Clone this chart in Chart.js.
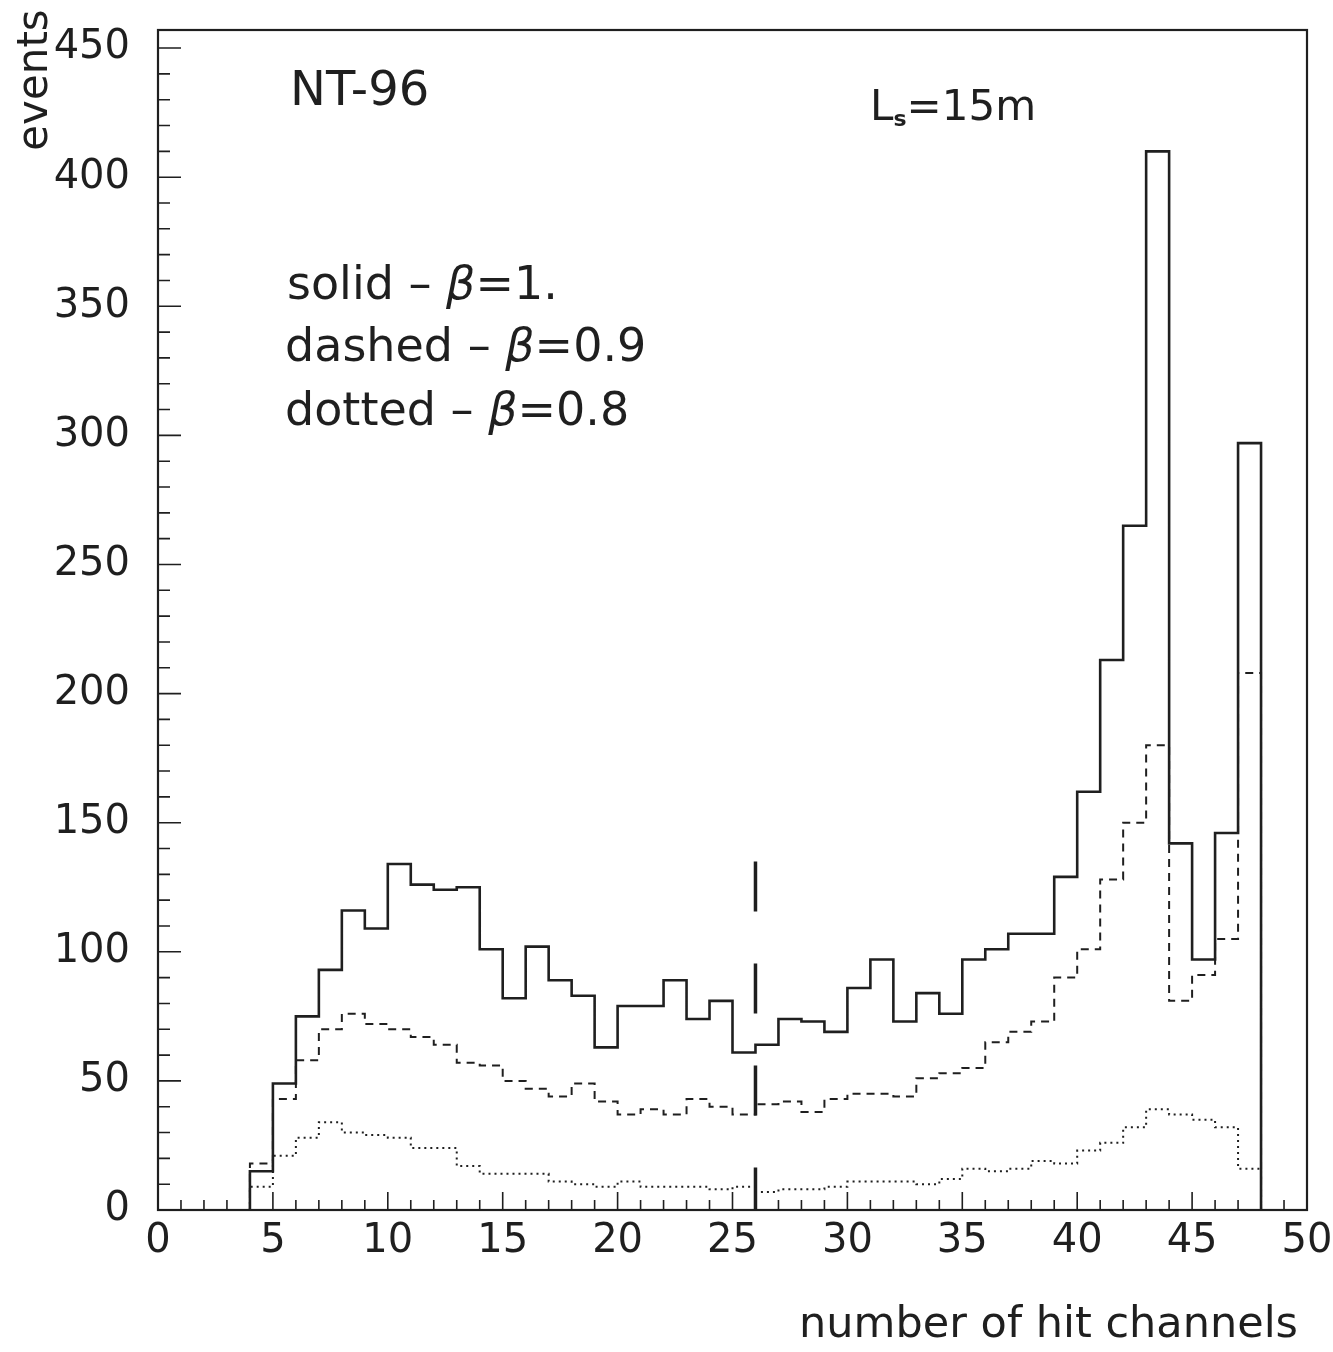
<!DOCTYPE html>
<html><head><meta charset="utf-8">
<script src="https://cdn.jsdelivr.net/npm/chart.js@4.4.1/dist/chart.umd.min.js"></script>
<style>html,body{margin:0;padding:0;background:#fff;}canvas{display:block;}</style>
</head><body>
<canvas id="c" width="1333" height="1352"></canvas>
<script>
// ---- data (bins of width 1, first bin starts at 4 hit channels) ----
const firstBinEdge = 4;
const solidBeta1  = [15,49,75,93,116,109,134,126,124,125, 101,82,102,89,83,63,79,79,89,74, 81,61,64,74,73,69,86,97,73,84, 76,97,101,107,107,129,162,213,265,410, 142,97,146,297];
const dashedBeta09 = [18,43,58,70,76,72,70,67,64,57, 56,50,47,44,49,42,37,39,37,43, 40,37,41,42,38,43,45,45,44,51, 53,55,65,69,73,90,101,128,150,180, 81,91,105,208];
const dottedBeta08 = [9,21,28,34,30,29,28,24,24,17, 14,14,14,11,10,9,11,9,9,9, 8,9,7,8,8,9,11,11,11,10, 12,16,15,16,19,18,23,26,32,39, 37,35,32,16];
const xTickLabels = [0,5,10,15,20,25,30,35,40,45,50];
const yTickLabels = [0,50,100,150,200,250,300,350,400,450];
const xMin = 0, xMax = 50, yMin = 0, yMax = 457;
const markerX = 26, markerTop = 135;

const INK = '#1f1f1f';
const FONT = '"DejaVu Sans", sans-serif';

function toSteps(vals){
  const pts = [{x:firstBinEdge, y:0}];
  vals.forEach((v,i)=>pts.push({x:firstBinEdge+i, y:v}));
  pts.push({x:firstBinEdge+vals.length, y:0});
  return pts;
}

const framePlugin = {
  id:'frame',
  afterDatasetsDraw(chart){
    const {ctx, chartArea:a, scales:{x,y}} = chart;
    ctx.save();
    ctx.strokeStyle = INK; ctx.lineWidth = 2.2;
    ctx.strokeRect(a.left, a.top, a.right-a.left, a.bottom-a.top);
    ctx.lineWidth = 1.6;
    ctx.beginPath();
    for(let v=yMin; v<=450; v+=10){
      const py = y.getPixelForValue(v);
      const len = (v%50===0)?23:12;
      ctx.moveTo(a.left, py); ctx.lineTo(a.left+len, py);
    }
    for(let v=xMin; v<=xMax; v+=1){
      const px = x.getPixelForValue(v);
      const len = (v%5===0)?18:10;
      ctx.moveTo(px, a.bottom); ctx.lineTo(px, a.bottom-len);
    }
    ctx.stroke();
    ctx.restore();
  },
  afterDraw(chart){
    const ctx = chart.ctx;
    ctx.save();
    ctx.fillStyle = INK;
    ctx.textBaseline = 'alphabetic';
    const rich = (parts, x, y)=>{
      for(const p of parts){ ctx.font = p.f; ctx.fillText(p.t, x, y + (p.dy||0)); x += ctx.measureText(p.t).width; }
    };
    // top annotations
    ctx.textAlign = 'left';
    ctx.font = '48px ' + FONT; ctx.fillText('NT-96', 290, 105);
    rich([{t:'L', f:'42px '+FONT},{t:'s', f:'bold 22px '+FONT, dy:6},{t:'=15m', f:'42px '+FONT}], 870, 120);
    const n = '46px ' + FONT, it = 'italic 46px ' + FONT;
    rich([{t:'solid \u2013 ', f:n},{t:'\u03b2', f:it},{t:'=1.', f:n}], 287, 299);
    rich([{t:'dashed \u2013 ', f:n},{t:'\u03b2', f:it},{t:'=0.9', f:n}], 285, 361);
    rich([{t:'dotted \u2013 ', f:n},{t:'\u03b2', f:it},{t:'=0.8', f:n}], 285, 425);
    // axis titles
    ctx.font = '43px ' + FONT; ctx.textAlign = 'right';
    ctx.fillText('number of hit channels', 1298, 1337);
    ctx.translate(47, 80); ctx.rotate(-Math.PI/2);
    ctx.font = '42px ' + FONT; ctx.textAlign = 'center';
    ctx.fillText('events', 0, 0);
    ctx.restore();
  }
};

new Chart(document.getElementById('c'), {
  type:'line',
  data:{datasets:[
    {label:'solid - β=1.', data:toSteps(solidBeta1), stepped:true, borderColor:INK, borderWidth:2.6, pointRadius:0, fill:false},
    {label:'dashed - β=0.9', data:toSteps(dashedBeta09), stepped:true, borderColor:INK, borderWidth:2, borderDash:[8,6], pointRadius:0, fill:false},
    {label:'dotted - β=0.8', data:toSteps(dottedBeta08), stepped:true, borderColor:INK, borderWidth:2, borderDash:[2,4], pointRadius:0, fill:false},
    {label:'marker', data:[{x:markerX,y:markerTop},{x:markerX,y:0}], borderColor:INK, borderWidth:3.5, borderDash:[50,52], pointRadius:0, fill:false}
  ]},
  options:{
    responsive:false, animation:false, devicePixelRatio:1,
    layout:{padding:{top:30, right:26, left:0, bottom:0}},
    plugins:{legend:{display:false}, tooltip:{enabled:false}},
    scales:{
      x:{type:'linear', min:xMin, max:xMax,
         afterFit(s){ s.height = 142; s.paddingLeft = 0; s.paddingRight = 0; },
         afterBuildTicks(s){ s.ticks = xTickLabels.map(v=>({value:v})); },
         grid:{display:false, drawTicks:false}, border:{display:false},
         ticks:{font:{family:FONT, size:40}, color:INK, padding:8, maxRotation:0, autoSkip:false}},
      y:{type:'linear', min:yMin, max:yMax,
         afterFit(s){ s.width = 158; s.paddingTop = 0; s.paddingBottom = 0; },
         afterBuildTicks(s){ s.ticks = yTickLabels.map(v=>({value:v})); },
         grid:{display:false, drawTicks:false}, border:{display:false},
         ticks:{font:{family:FONT, size:40}, color:INK, padding:28, autoSkip:false}}
    }
  },
  plugins:[framePlugin]
});
</script>
</body></html>
